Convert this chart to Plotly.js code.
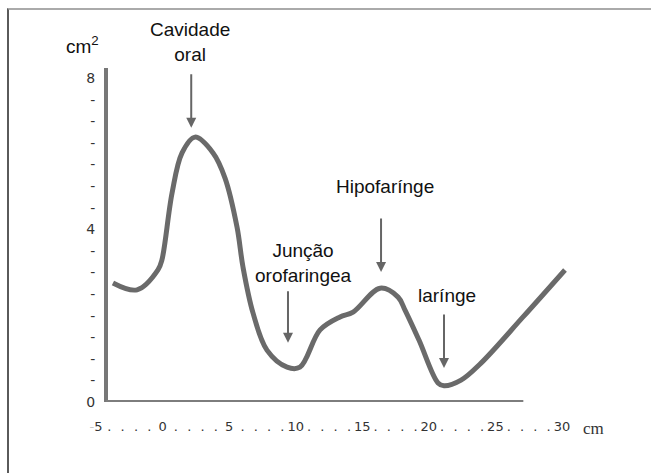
<!DOCTYPE html>
<html>
<head>
<meta charset="utf-8">
<script src="https://cdn.plot.ly/plotly-3.0.1.min.js"></script>
<style>
  html, body { margin: 0; padding: 0; background: #fff; }
  #frame { position: absolute; left: 7px; top: 8px; width: 644px; height: 465px;
           border-top: 2px solid #aaaaaa; border-left: 2px solid #5a5a5a; box-sizing: border-box; }
  #chart { position: absolute; left: 0; top: 0; width: 651px; height: 473px; }
</style>
</head>
<body>
<div id="frame"></div>
<div id="chart"></div>
<script>
// ---- data (distance in cm, area in cm²) ----
const distance = [-3.73, -1.92, -0.35, -0.05, 0.71, 1.46, 2.43, 3.79, 4.69, 5.59, 6.04, 6.79, 7.84, 9.35, 10.32, 11.83, 13.33, 14.31, 16.34, 17.69, 18.21, 19.26, 20.69, 21.14, 22.42, 23.92, 27.08, 30.23];
const area     = [2.94, 2.77, 3.26, 3.51, 5.16, 6.15, 6.54, 6.15, 5.53, 4.32, 3.33, 2.20, 1.28, 0.86, 0.86, 1.78, 2.10, 2.22, 2.81, 2.59, 2.27, 1.53, 0.47, 0.40, 0.54, 0.96, 2.10, 3.26];

// x tick labels: every cm, numbers every 5 cm
const xTickVals = [];
const xTickText = [];
for (let v = -5; v <= 30; v++) {
  xTickVals.push(v);
  if (v === -5) xTickText.push('<span style="color:#c8c8c8">-</span>5');
  else xTickText.push(v % 5 === 0 ? String(v) : '.');
}
// y tick labels (15 equal steps, drawn as dashes)
const yTickText = ['0','-','-','-','-','-','-','-','4','-','-','-','-','-','-','8'];
const yTickVals = yTickText.map((t, i) => i * 8 / 15);

// annotation labels and arrow tips
const labelText = ['Cavidade<br>oral', 'Junção<br>orofaringea', 'Hipofarínge', 'larínge'];
const labelX    = [2.06, 10.55, 16.71, 21.36];
const labelY    = [8.89, 3.43, 5.31, 2.64];
const arrowX    = [2.15, 9.42, 16.41, 21.14];
const arrowY    = [6.77, 1.46, 3.21, 0.84];
const arrowLen  = [55, 53, 55, 55];

const yMax = 8.247;
// axis line extent
const axisStartX = -4.25;
const axisEndX = 27.1;

const annotations = [];
labelText.forEach((t, i) => {
  const outside = labelY[i] > yMax;
  annotations.push({
    x: labelX[i], xref: 'x',
    y: outside ? labelY[i] / yMax : labelY[i], yref: outside ? 'paper' : 'y',
    text: t, showarrow: false,
    font: {family: 'Liberation Sans, Arial, sans-serif', size: 19, color: '#111'},
    xanchor: 'center', yanchor: 'middle'
  });
  annotations.push({
    x: arrowX[i], y: arrowY[i], xref: 'x', yref: 'y', text: '', showarrow: true,
    ax: 0, ay: -arrowLen[i], arrowhead: 2, arrowsize: 1, arrowwidth: 2, arrowcolor: '#666'
  });
});
annotations.push({
  xref: 'paper', yref: 'paper', x: 0.004, y: 1.069, text: 'cm<sup>2</sup>', showarrow: false,
  font: {family: 'Liberation Sans, Arial, sans-serif', size: 19, color: '#111'},
  xanchor: 'center', yanchor: 'middle'
});
annotations.push({
  xref: 'paper', yref: 'paper', x: 0.988, y: -0.078, text: 'cm', showarrow: false,
  font: {family: 'Liberation Serif, Times New Roman, serif', size: 17, color: '#333'},
  xanchor: 'center', yanchor: 'middle'
});

const trace = {
  x: distance, y: area, type: 'scatter', mode: 'lines',
  line: {color: '#6a6a6a', width: 5, shape: 'spline', smoothing: 1},
  hoverinfo: 'skip'
};

const layout = {
  width: 651, height: 473, autosize: false,
  margin: {l: 80, r: 51, t: 68, b: 71, pad: 0},
  paper_bgcolor: 'rgba(0,0,0,0)', plot_bgcolor: 'rgba(0,0,0,0)',
  showlegend: false,
  xaxis: {
    range: [-6.206, 32.86], showgrid: false, zeroline: false, showline: false,
    tickmode: 'array', tickvals: xTickVals, ticktext: xTickText, ticks: '', tickangle: 0,
    ticklabelstandoff: 15,
    tickfont: {family: 'DejaVu Sans, Verdana, sans-serif', size: 13, color: '#333'}
  },
  yaxis: {
    range: [0, yMax], anchor: 'free', position: 0.05, showgrid: false, zeroline: false,
    showline: true, linecolor: '#777', linewidth: 4,
    tickmode: 'array', tickvals: yTickVals, ticktext: yTickText, ticks: '',
    ticklabelstandoff: 6,
    tickfont: {family: 'DejaVu Sans, Verdana, sans-serif', size: 14, color: '#333'}
  },
  shapes: [{
    type: 'line', xref: 'x', yref: 'y', x0: axisStartX, x1: axisEndX, y0: 0, y1: 0,
    line: {color: '#7d7d7d', width: 4}
  }],
  annotations: annotations
};

Plotly.newPlot('chart', [trace], layout, {displayModeBar: false, staticPlot: true});
</script>
</body>
</html>
